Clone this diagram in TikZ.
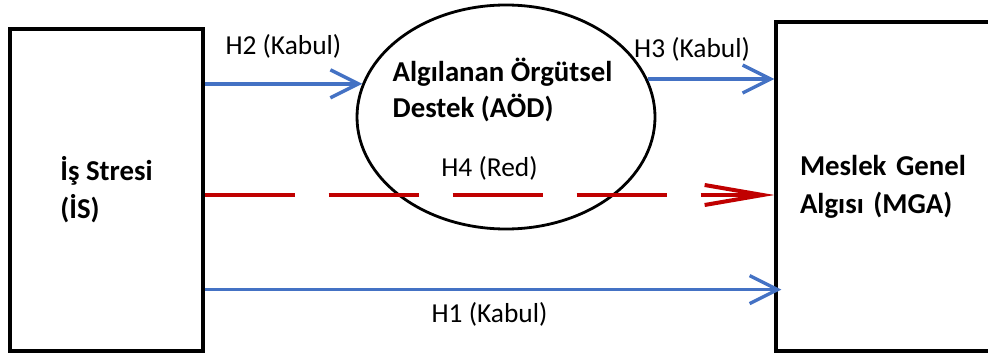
\documentclass[tikz,border=0pt]{standalone}
\usepackage{fontspec}
\setmainfont{Carlito}
\usetikzlibrary{arrows.meta,shapes.geometric}
\definecolor{kabulblue}{HTML}{4472C4}
\definecolor{redline}{HTML}{C00000}

\begin{document}
\begin{tikzpicture}[x=0.5pt,y=-0.5pt,
    varbox/.style={shape=rectangle,draw=black,line width=1.6pt,align=left,
      font=\fontsize{14.4}{19}\selectfont\bfseries},
    kabul/.style={draw=kabulblue,line width=1.7pt,-{Straight Barb[length=14pt,width=14pt]}},
    red/.style={draw=redline,line width=2pt,dash pattern=on 45pt off 17pt,
      -{Straight Barb[length=29pt,width=10pt]}},
    hlabel/.style={font=\fontsize{13.7}{16}\selectfont}]
  \clip (0,0) rectangle (988,353);

  \node[varbox,minimum width=96.5pt,minimum height=161pt] (is) at (106.5,190) {İş Stresi\\(İS)};
  \node[varbox,minimum width=112pt,minimum height=164.5pt,text width=88pt] (mga) at (888,186.5) {Meslek Genel\\Algısı (MGA)};
  \node[shape=ellipse,draw=black,line width=1.4pt,minimum width=149pt,minimum height=112pt] (aod) at (506,117) {};
  \node[align=left,font=\fontsize{14.4}{18}\selectfont\bfseries] (aodtext) at (502.5,90) {Algılanan Örgütsel\\Destek (AÖD)};

  \coordinate (h4start) at ([yshift=-2.5pt]is.east);
  \coordinate (h1start) at ([yshift=31.5pt]is.south east);

  \draw[kabul] (is.east |- aod.167.4) -- (aod.167.4)
    node[hlabel,midway,yshift=18.5pt] (h2) {H2 (Kabul)};
  \draw[kabul] (aod.15.6) -- (aod.15.6 -| mga.west)
    node[hlabel,pos=0.35,yshift=15pt] (h3) {H3 (Kabul)};
  \draw[red] (h4start) -- (h4start -| mga.west)
    node[hlabel,midway,yshift=13.5pt] (h4) {H4 (Red)};
  \draw[kabul,shorten >=-3.5pt] (h1start) -- (h1start -| mga.west)
    node[hlabel,midway,yshift=-12.5pt] (h1) {H1 (Kabul)};
\end{tikzpicture}
\end{document}
